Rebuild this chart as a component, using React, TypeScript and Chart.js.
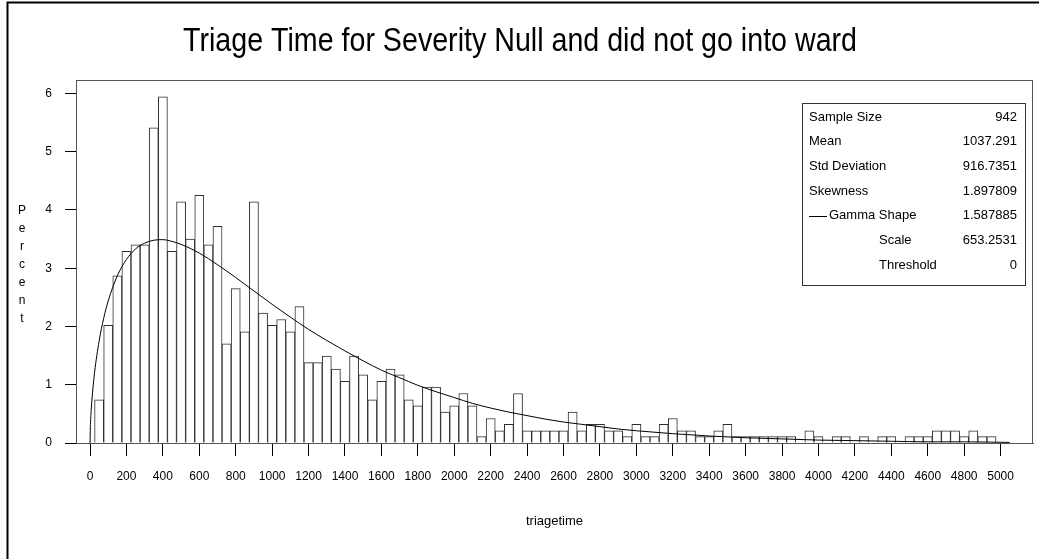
import { useEffect, useRef } from "react";
import { Chart, registerables } from "chart.js";

Chart.register(...registerables);

// Histogram bins: midpoints (width 50) and percent of observations
const binMidpoints = [
  50, 100, 150, 200, 250, 300, 350, 400, 450, 500,
  550, 600, 650, 700, 750, 800, 850, 900, 950, 1000,
  1050, 1100, 1150, 1200, 1250, 1300, 1350, 1400, 1450, 1500,
  1550, 1600, 1650, 1700, 1750, 1800, 1850, 1900, 1950, 2000,
  2050, 2100, 2150, 2200, 2250, 2300, 2350, 2400, 2450, 2500,
  2550, 2600, 2650, 2700, 2750, 2800, 2850, 2900, 2950, 3000,
  3050, 3100, 3150, 3200, 3250, 3300, 3350, 3400, 3450, 3500,
  3550, 3600, 3650, 3700, 3750, 3800, 3850, 3900, 3950, 4000,
  4050, 4100, 4150, 4200, 4250, 4300, 4350, 4400, 4450, 4500,
  4550, 4600, 4650, 4700, 4750, 4800, 4850, 4900, 4950,
];

const binPercents = [
  0.74, 2.02, 2.87, 3.29, 3.4, 3.4, 5.41, 5.94, 3.29, 4.14,
  3.5, 4.25, 3.4, 3.72, 1.7, 2.65, 1.91, 4.14, 2.23, 2.02,
  2.12, 1.91, 2.34, 1.38, 1.38, 1.49, 1.27, 1.06, 1.49, 1.17,
  0.74, 1.06, 1.27, 1.17, 0.74, 0.64, 0.96, 0.96, 0.53, 0.64,
  0.85, 0.64, 0.11, 0.42, 0.21, 0.32, 0.85, 0.21, 0.21, 0.21,
  0.21, 0.21, 0.53, 0.21, 0.32, 0.32, 0.21, 0.21, 0.11, 0.32,
  0.11, 0.11, 0.32, 0.42, 0.21, 0.21, 0.11, 0.11, 0.21, 0.32,
  0.11, 0.11, 0.11, 0.11, 0.11, 0.11, 0.11, 0, 0.21, 0.11,
  0, 0.11, 0.11, 0, 0.11, 0, 0.11, 0.11, 0, 0.11,
  0.11, 0.11, 0.21, 0.21, 0.21, 0.11, 0.21, 0.11, 0.11,
];

// Fitted gamma density, expressed in percent per bin
const gammaX = [
  0, 2, 5, 10, 25, 50, 75, 100, 150, 200, 250, 300, 350, 400, 450, 500,
  600, 700, 800, 900, 1000, 1100, 1200, 1300, 1400, 1500, 1600, 1700,
  1800, 1900, 2000, 2100, 2200, 2300, 2400, 2500, 2600, 2700, 2800,
  2900, 3000, 3200, 3400, 3600, 3800, 4000, 4200, 4400, 4600, 4800, 5050,
];
const gammaPercent = [
  0, 0.28, 0.49, 0.72, 1.21, 1.75, 2.14, 2.44, 2.87, 3.15, 3.33, 3.43, 3.48, 3.49, 3.46, 3.41,
  3.26, 3.06, 2.84, 2.61, 2.38, 2.16, 1.95, 1.76, 1.58, 1.41, 1.25, 1.12,
  0.99, 0.88, 0.78, 0.68, 0.6, 0.53, 0.47, 0.41, 0.36, 0.32, 0.28,
  0.24, 0.21, 0.16, 0.12, 0.09, 0.07, 0.05, 0.04, 0.03, 0.02, 0.02, 0.01,
];

const xTickValues = [
  0, 200, 400, 600, 800, 1000, 1200, 1400, 1600, 1800, 2000, 2200, 2400,
  2600, 2800, 3000, 3200, 3400, 3600, 3800, 4000, 4200, 4400, 4600, 4800, 5000,
];
const yTickValues = [0, 1, 2, 3, 4, 5, 6];

const titleText = "Triage Time for Severity Null and did not go into ward";
const xAxisTitle = "triagetime";
const yAxisTitle = "Percent";

const statLabels = [
  "Sample Size", "Mean", "Std Deviation", "Skewness", "Gamma Shape", "Scale", "Threshold",
];
const statValues = [
  "942", "1037.291", "916.7351", "1.897809", "1.587885", "653.2531", "0",
];

const SANS = "'Liberation Sans', Arial, sans-serif";

const decorPlugin = {
  id: "decor",
  afterDraw(chart: any) {
    const { ctx, chartArea } = chart;
    const { left, top, right, bottom } = chartArea;
    ctx.save();

    // page frame (top and left edges)
    ctx.strokeStyle = "#000";
    ctx.lineWidth = 2;
    ctx.beginPath();
    ctx.moveTo(7.5, 559);
    ctx.lineTo(7.5, 2.5);
    ctx.lineTo(1039, 2.5);
    ctx.stroke();

    // plot frame
    ctx.strokeStyle = "#555";
    ctx.lineWidth = 1;
    ctx.strokeRect(left + 0.5, top + 0.5, right - left - 1, bottom - top);

    // title
    ctx.fillStyle = "#000";
    ctx.textAlign = "center";
    ctx.textBaseline = "alphabetic";
    ctx.font = `33px ${SANS}`;
    ctx.fillText(titleText, 520, 51, 674);

    // x axis title
    ctx.font = `13px ${SANS}`;
    ctx.textBaseline = "middle";
    ctx.fillText(xAxisTitle, (left + right) / 2, 521);

    // y axis title, stacked letters
    ctx.font = `12px ${SANS}`;
    [...yAxisTitle].forEach((ch, i) => {
      ctx.fillText(ch, 22, 211 + i * 18);
    });

    // statistics inset
    const bx = 802, by = 103, bw = 223, bh = 182;
    ctx.strokeStyle = "#333";
    ctx.strokeRect(bx + 0.5, by + 0.5, bw, bh);
    ctx.textBaseline = "middle";
    statLabels.forEach((label, i) => {
      const y = 117 + i * 24.7;
      ctx.font = `13px ${SANS}`;
      ctx.textAlign = "left";
      let tx = 809;
      if (i === 4) {
        ctx.strokeStyle = "#000";
        ctx.beginPath();
        ctx.moveTo(809, Math.round(y) + 0.5);
        ctx.lineTo(827, Math.round(y) + 0.5);
        ctx.stroke();
        tx = 829;
      } else if (i > 4) {
        tx = 879;
      }
      ctx.fillText(label, tx, y);
      ctx.textAlign = "right";
      ctx.fillText(statValues[i], 1017, y);
    });

    ctx.restore();
  },
};

export default function App() {
  const canvasRef = useRef<HTMLCanvasElement | null>(null);

  useEffect(() => {
    const canvas = canvasRef.current;
    if (!canvas) return;
    const chart = new Chart(canvas, {
      type: "bar",
      data: {
        datasets: [
          {
            type: "line",
            data: gammaX.map((x, i) => ({ x, y: gammaPercent[i] })),
            borderColor: "#000",
            borderWidth: 1,
            pointRadius: 0,
            fill: false,
            cubicInterpolationMode: "monotone",
            order: 0,
          } as any,
          {
            type: "bar",
            data: binMidpoints.map((x, i) => ({ x, y: binPercents[i] })),
            backgroundColor: "#fff",
            borderColor: "#2e2e2e",
            borderWidth: 1,
            barPercentage: 1,
            categoryPercentage: 1,
            order: 1,
          } as any,
        ],
      },
      options: {
        animation: false,
        responsive: false,
        events: [],
        layout: { padding: { top: 80, right: 6, left: 0, bottom: 0 } },
        plugins: {
          legend: { display: false },
          tooltip: { enabled: false },
          title: { display: false },
        },
        scales: {
          x: {
            type: "linear",
            min: -77,
            max: 5178,
            offset: false,
            grid: {
              offset: false,
              drawOnChartArea: false,
              drawTicks: true,
              tickLength: 13,
              color: "#000",
            },
            border: { display: true, color: "#555" },
            ticks: {
              color: "#000",
              padding: 13,
              maxRotation: 0,
              autoSkip: false,
              font: { family: SANS, size: 12 },
              callback: (v: any) => String(v),
            },
            afterBuildTicks: (scale: any) => {
              scale.ticks = xTickValues.map((v) => ({ value: v }));
            },
            afterFit: (scale: any) => {
              scale.height = 116;
            },
          },
          y: {
            type: "linear",
            min: 0,
            max: 6.23,
            grid: {
              drawOnChartArea: false,
              drawTicks: true,
              tickLength: 11,
              color: "#000",
            },
            border: { display: true, color: "#555" },
            ticks: {
              color: "#000",
              padding: 13,
              font: { family: SANS, size: 12 },
              callback: (v: any) => String(v),
            },
            afterBuildTicks: (scale: any) => {
              scale.ticks = yTickValues.map((v) => ({ value: v }));
            },
            afterFit: (scale: any) => {
              scale.width = 76;
            },
          },
        },
      } as any,
      plugins: [decorPlugin],
    });
    return () => chart.destroy();
  }, []);

  return (
    <div style={{ position: "fixed", left: 0, top: 0, width: 1039, height: 559, background: "#fff" }}>
      <canvas ref={canvasRef} width={1039} height={559} style={{ display: "block" }} />
    </div>
  );
}
